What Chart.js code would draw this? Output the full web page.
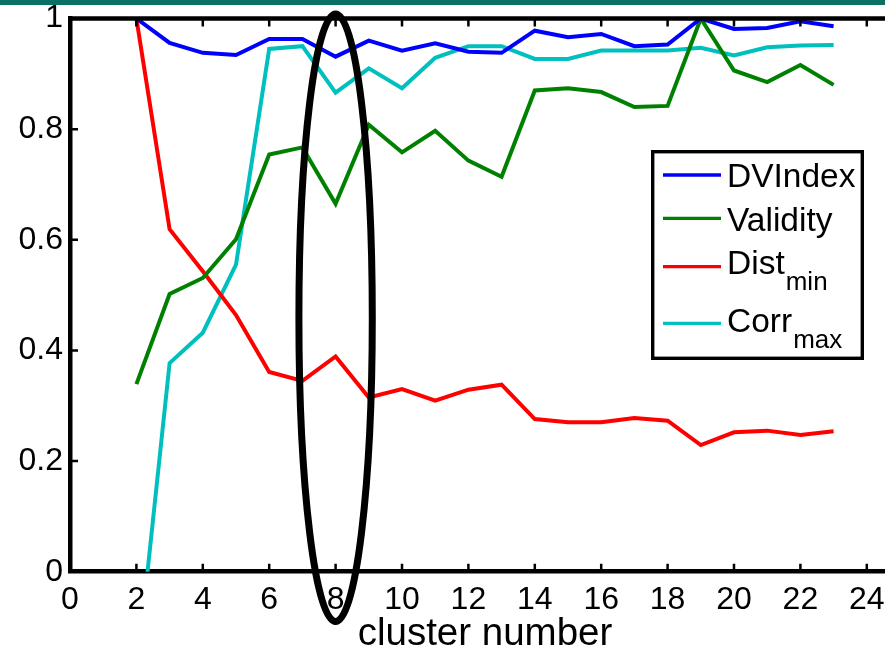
<!DOCTYPE html>
<html>
<head>
<meta charset="utf-8">
<script src="https://cdn.jsdelivr.net/npm/chart.js@4/dist/chart.umd.min.js"></script>
<style>
  html, body { margin: 0; padding: 0; background: #fff; overflow: hidden; }
  #wrap { position: relative; width: 885px; height: 651px; overflow: hidden; }
  #bar { position: absolute; left: 0; top: 0; width: 885px; height: 5px; background: #0a7064; z-index: 2; }
  #c { position: absolute; left: 0; top: 0; }
</style>
</head>
<body>
<div id="wrap">
  <div id="bar"></div>
  <canvas id="c" width="900" height="651"></canvas>
</div>
<script>
// --- data ---
const clusters = [2,3,4,5,6,7,8,9,10,11,12,13,14,15,16,17,18,19,20,21,22,23];
const dvIndex  = [1.0,0.956,0.938,0.934,0.963,0.963,0.931,0.960,0.942,0.955,0.940,0.938,0.978,0.966,0.972,0.950,0.953,1.0,0.981,0.983,0.995,0.986];
const validity = [0.339,0.502,0.531,0.601,0.754,0.767,0.665,0.808,0.758,0.797,0.743,0.714,0.870,0.874,0.867,0.840,0.842,1.0,0.906,0.885,0.916,0.880];
const distMin  = [1.0,0.619,0.543,0.464,0.361,0.345,0.389,0.315,0.330,0.309,0.329,0.338,0.276,0.270,0.270,0.278,0.273,0.229,0.252,0.255,0.247,0.254];
const corrMax  = [-0.19,0.377,0.432,0.555,0.945,0.950,0.866,0.910,0.874,0.929,0.950,0.950,0.927,0.927,0.942,0.942,0.942,0.947,0.933,0.948,0.951,0.952];

const xTicks = [0,2,4,6,8,10,12,14,16,18,20,22,24];
const yTicks = [0,0.2,0.4,0.6,0.8,1];
const yTickLabels = ['0','0.2','0.4','0.6','0.8','1'];

const seriesNames  = ['DVIndex','Validity','Dist','Corr'];
const seriesSubs   = ['','','min','max'];
const seriesColors = ['#0000ff','#008000','#ff0000','#00bfbf'];
const seriesData   = [dvIndex, validity, distMin, corrMax];

// the circled choice (k = 8), in data units
const mark = { x: 8, y: 0.459, rx: 1.105, ry: 0.549 };

const FONT = '"Liberation Sans", Arial, Helvetica, sans-serif';

// inward ticks + top frame line, matlab style
const frame = {
  id: 'frame',
  afterDatasetsDraw(chart) {
    const { ctx, chartArea: a, scales: { x, y } } = chart;
    ctx.save();
    ctx.strokeStyle = '#000';
    ctx.lineWidth = 4.5;
    ctx.beginPath();
    ctx.moveTo(a.left - 2, a.top);
    ctx.lineTo(a.right + 5, a.top);
    ctx.stroke();
    ctx.lineWidth = 2.5;
    ctx.beginPath();
    xTicks.forEach(v => {
      if (v === x.min) return;
      const px = x.getPixelForValue(v);
      ctx.moveTo(px, a.bottom); ctx.lineTo(px, a.bottom - 8);
      ctx.moveTo(px, a.top); ctx.lineTo(px, a.top + 8);
    });
    yTicks.forEach(v => {
      const py = y.getPixelForValue(v);
      ctx.moveTo(a.left, py); ctx.lineTo(a.left + 8, py);
    });
    ctx.stroke();
    ctx.restore();
  },
  afterDraw(chart) {
    const { ctx, scales: { x, y } } = chart;
    ctx.save();
    // ellipse around k = 8
    const cx = x.getPixelForValue(mark.x), cy = y.getPixelForValue(mark.y);
    const rx = x.getPixelForValue(mark.x + mark.rx) - cx;
    const ry = cy - y.getPixelForValue(mark.y + mark.ry);
    ctx.strokeStyle = '#000';
    ctx.lineWidth = 7;
    ctx.beginPath();
    ctx.ellipse(cx, cy, rx, ry, 0, 0, Math.PI * 2);
    ctx.stroke();

    // legend box
    const bx = 652.7, by = 151.7, bw = 209.6, bh = 206.6;
    ctx.fillStyle = '#fff';
    ctx.fillRect(bx, by, bw, bh);
    ctx.lineWidth = 3.4;
    ctx.strokeRect(bx, by, bw, bh);
    const lineY = [175, 218.3, 266.7, 323.3];
    const baseY = [186.7, 230.7, 273.5, 332];
    seriesNames.forEach((name, i) => {
      ctx.strokeStyle = seriesColors[i];
      ctx.lineWidth = 3.3;
      ctx.beginPath();
      ctx.moveTo(663, lineY[i]); ctx.lineTo(721, lineY[i]);
      ctx.stroke();
      ctx.fillStyle = '#000';
      ctx.textBaseline = 'alphabetic';
      ctx.textAlign = 'left';
      ctx.font = '33.5px ' + FONT;
      ctx.fillText(name, 727, baseY[i]);
      if (seriesSubs[i]) {
        const w = ctx.measureText(name).width;
        ctx.font = '26px ' + FONT;
        ctx.fillText(seriesSubs[i], 727 + w + 1, baseY[i] + 16);
      }
    });
    ctx.restore();
  }
};

new Chart(document.getElementById('c'), {
  type: 'line',
  data: {
    datasets: seriesData.map((arr, i) => ({
      label: seriesNames[i] + seriesSubs[i],
      data: clusters.map((k, j) => ({ x: k, y: arr[j] })),
      borderColor: seriesColors[i],
      borderWidth: 4,
      pointRadius: 0,
      tension: 0,
      fill: false
    }))
  },
  options: {
    responsive: false,
    animation: false,
    layout: { padding: { top: 18.5, right: 0, left: 0, bottom: 0 } },
    plugins: { legend: { display: false }, tooltip: { enabled: false } },
    scales: {
      x: {
        type: 'linear',
        min: 0, max: 25,
        afterBuildTicks: s => { s.ticks = xTicks.map(v => ({ value: v })); },
        afterFit: s => { s.height = 79.3; },
        grid: { display: false, drawTicks: false },
        border: { display: true, color: '#000', width: 4.5 },
        ticks: { color: '#000', font: { family: FONT, size: 32, lineHeight: 1 }, padding: 12, maxRotation: 0, autoSkip: false },
        title: { display: true, text: 'cluster number', color: '#000', font: { family: FONT, size: 38.5, lineHeight: 1 }, padding: { top: 0, bottom: -3 } }
      },
      y: {
        min: 0, max: 1,
        afterBuildTicks: s => { s.ticks = yTicks.map(v => ({ value: v })); },
        afterFit: s => { s.width = 70; s.paddingTop = 0; s.paddingBottom = 0; },
        grid: { display: false, drawTicks: false },
        border: { display: true, color: '#000', width: 4.5 },
        ticks: { color: '#000', font: { family: FONT, size: 32, lineHeight: 1 }, padding: 7, callback: (v, i) => yTickLabels[i] }
      }
    }
  },
  plugins: [frame]
});
</script>
</body>
</html>
